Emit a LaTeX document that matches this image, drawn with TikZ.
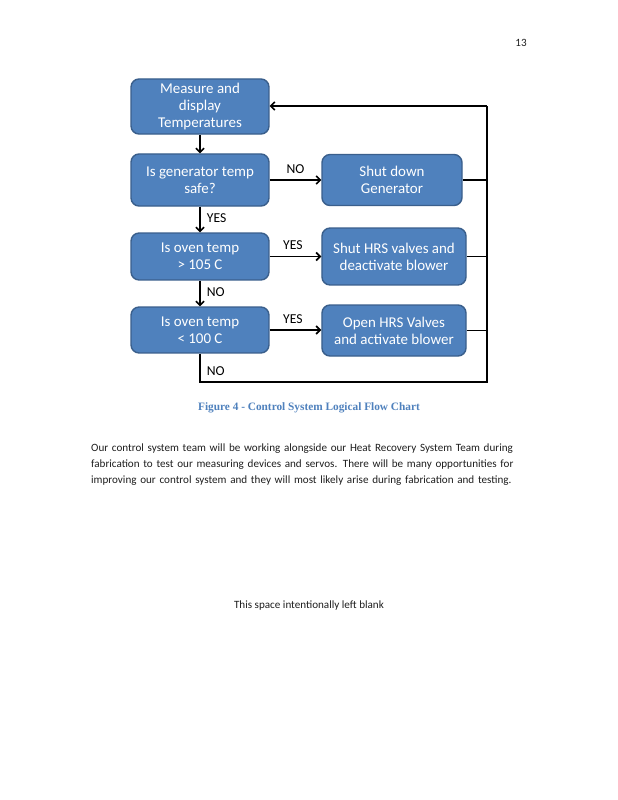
\documentclass[tikz,border=0pt]{standalone}
\usepackage{fontspec}
\setmainfont{Carlito}
\newfontfamily\capfont{Liberation Serif}
\usetikzlibrary{arrows.meta}
\definecolor{boxblue}{HTML}{4F81BD}
\definecolor{boxedge}{HTML}{3A5F8C}
\definecolor{capblue}{HTML}{4F81BD}
\definecolor{bodytext}{HTML}{1E1E1E}

\begin{document}
\begin{tikzpicture}[x=0.99pt,y=-0.99pt,
	flowbox/.style={draw=boxedge, line width=1.4pt, fill=boxblue, rounded corners=8pt,
		text=white, align=center, inner sep=0pt, font=\fontsize{14.8}{17}\selectfont},
	flowline/.style={line width=1.6pt},
	flowarrow/.style={flowline, -{Straight Barb[length=4pt,width=8pt,line width=1.6pt]}},
	answer/.style={font=\fontsize{13.5}{15}\selectfont, inner sep=6pt}]
	\useasboundingbox[fill=white] (0,0) rectangle (618,800);
	% page number
	\node[text=bodytext, font=\fontsize{11}{13}\selectfont] (pagenum) at (521,43) {13};
	% flow chart boxes
	\node[flowbox, minimum width=136.6pt, minimum height=54.5pt] (measure) at (200,106.5) {Measure and\\display\\Temperatures};
	\node[flowbox, minimum width=136.6pt, minimum height=51.5pt] (gentemp) at (200,180) {Is generator temp\\safe?};
	\node[flowbox, minimum width=138.6pt, minimum height=50.5pt] (shutgen) at (392,180) {Shut down\\Generator};
	\node[flowbox, minimum width=136.6pt, minimum height=46.5pt] (ovenhigh) at (200,256.5) {Is oven temp\\> 105 C};
	\node[flowbox, minimum width=142.6pt, minimum height=56.4pt] (shuthrs) at (394,256.5) {Shut HRS valves and\\deactivate blower};
	\node[flowbox, minimum width=136.6pt, minimum height=45.5pt] (ovenlow) at (200,330) {Is oven temp\\< 100 C};
	\node[flowbox, minimum width=142.6pt, minimum height=50.5pt] (openhrs) at (394,330.5) {Open HRS Valves\\and activate blower};
	% loop back corners
	\coordinate (looptop) at (487,106);
	\coordinate (loopbot) at (487,382);
	\coordinate (loopleft) at (200,382);
	% main path
	\draw[flowarrow] (measure) -- (gentemp);
	\draw[flowarrow] (gentemp) -- node[answer, right, pos=0.45] {YES} (ovenhigh);
	\draw[flowarrow] (ovenhigh) -- node[answer, right, pos=0.45] {NO} (ovenlow);
	\draw[flowarrow] (gentemp.east) -- node[answer, above, pos=0.5] {NO} (gentemp.east -| shutgen.west);
	\draw[flowarrow] (ovenhigh.east) -- node[answer, above, pos=0.45] {YES} (ovenhigh.east -| shuthrs.west);
	\draw[flowarrow] (ovenlow.east) -- node[answer, above, pos=0.45] {YES} (ovenlow.east -| openhrs.west);
	% return loop
	\draw[flowline] (ovenlow.south) -- node[answer, right, pos=0.6] {NO} (loopleft) -- (loopbot) -- (looptop);
	\draw[flowarrow] (looptop) -- (measure.east |- looptop);
	\draw[flowline] (shutgen.east) -- (shutgen.east -| looptop);
	\draw[flowline] (shuthrs.east) -- (shuthrs.east -| looptop);
	\draw[flowline] (openhrs.east) -- (openhrs.east -| looptop);
	% caption and text
	\node[text=capblue, font=\capfont\bfseries\fontsize{11.2}{13}\selectfont] (caption) at (309,408) {Figure 4 - Control System Logical Flow Chart};
	\node[anchor=north west, inner sep=0pt, text width=431.6pt, text=bodytext,
		font=\fontsize{11}{15.8}\selectfont] (para) at (91,444)
		{Our control system team will be working alongside our Heat Recovery System Team during\linebreak
		fabrication to test our measuring devices and servos. There will be many opportunities for\linebreak
		improving our control system and they will most likely arise during fabrication and testing.};
	\node[text=bodytext, font=\fontsize{11}{13}\selectfont] (blank) at (309,606) {This space intentionally left blank};
\end{tikzpicture}
\end{document}
